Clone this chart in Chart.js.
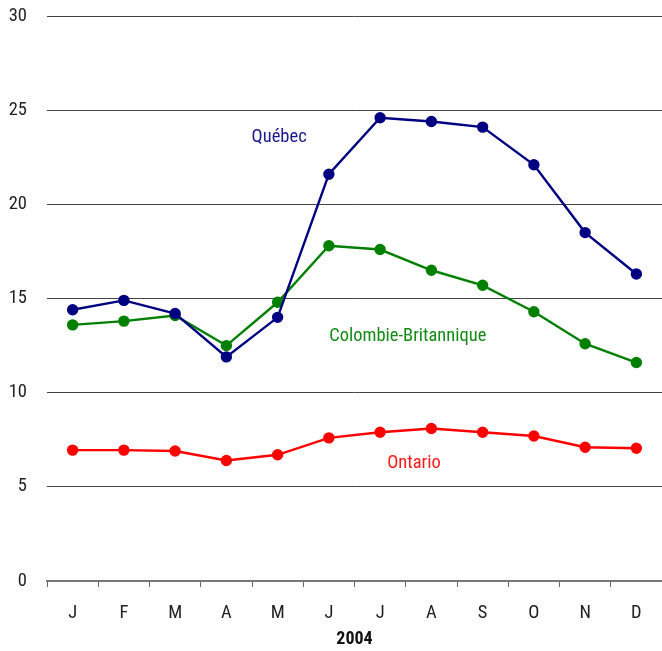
<!DOCTYPE html>
<html>
<head>
<meta charset="utf-8">
<script src="https://cdn.jsdelivr.net/npm/chart.js@4.4.1/dist/chart.umd.min.js"></script>
<style>
html,body{margin:0;padding:0;background:#fff;}
#wrap{width:662px;height:651px;}
</style>
</head>
<body>
<div id="wrap"><canvas id="c" width="662" height="651"></canvas></div>
<script>
const months = ['J','F','M','A','M','J','J','A','S','O','N','D'];
const xTitle = '2004';
const quebec = [14.4, 14.9, 14.2, 11.9, 14.0, 21.6, 24.6, 24.4, 24.1, 22.1, 18.5, 16.3];
const colombie = [13.6, 13.8, 14.1, 12.5, 14.8, 17.8, 17.6, 16.5, 15.7, 14.3, 12.6, 11.6];
const ontario = [6.95, 6.95, 6.9, 6.4, 6.7, 7.6, 7.9, 8.1, 7.9, 7.7, 7.1, 7.05];
const seriesNames = ['Québec', 'Colombie-Britannique', 'Ontario'];
const yMin = 0, yMax = 30, yStep = 5;

const FONT = "'Liberation Sans Narrow', 'Arial Narrow', 'Roboto Condensed', 'Liberation Sans', sans-serif";

// label positions in data space (category index, value)
const labelSpots = [
  {text: seriesNames[0], xi: 4.03, y: 23.58, color: '#1a1a8c'},
  {text: seriesNames[1], xi: 6.54, y: 13.01, color: '#138a13'},
  {text: seriesNames[2], xi: 6.66, y: 6.27, color: '#ff1a1a'}
];

const labelPlugin = {
  id: 'seriesLabels',
  afterDatasetsDraw(chart) {
    const ctx = chart.ctx;
    const xs = chart.scales.x, ys = chart.scales.y;
    ctx.save();
    ctx.font = "18.5px " + FONT;
    ctx.textAlign = 'center';
    ctx.textBaseline = 'middle';
    labelSpots.forEach(l => {
      const i0 = Math.floor(l.xi), f = l.xi - i0;
      const px = xs.getPixelForValue(i0) + f * (xs.getPixelForValue(i0 + 1) - xs.getPixelForValue(i0));
      ctx.fillStyle = l.color;
      ctx.fillText(l.text, px, ys.getPixelForValue(l.y));
    });
    ctx.restore();
  }
};

function ds(label, data, color) {
  return {
    label, data,
    borderColor: color, backgroundColor: color,
    pointBackgroundColor: color, pointBorderColor: color,
    borderWidth: 2.4, pointRadius: 4.5, pointHoverRadius: 4.5,
    tension: 0, fill: false
  };
}

new Chart(document.getElementById('c'), {
  type: 'line',
  data: {
    labels: months,
    datasets: [
      ds(seriesNames[0], quebec, '#000080'),
      ds(seriesNames[1], colombie, '#008000'),
      ds(seriesNames[2], ontario, '#ff0000')
    ]
  },
  options: {
    responsive: false,
    animation: false,
    devicePixelRatio: 1,
    layout: {autoPadding: false, padding: {top: 16, right: 0, left: 0, bottom: 0}},
    plugins: {legend: {display: false}, tooltip: {enabled: false}},
    scales: {
      x: {
        offset: true,
        afterFit(scale) { scale.height = 70; scale.paddingLeft = 0; scale.paddingRight = 0; },
        grid: {offset: true, drawOnChartArea: false, drawTicks: true, tickLength: 6, color: '#666', lineWidth: 1},
        border: {display: true, color: '#777', width: 2},
        ticks: {color: '#222', font: {family: FONT, size: 18.5}, padding: 15, maxRotation: 0, autoSkip: false},
        title: {display: true, text: xTitle, color: '#111', font: {family: FONT, size: 18, weight: 'bold'}, padding: {top: 2, bottom: 1}}
      },
      y: {
        min: yMin, max: yMax,
        afterFit(scale) { scale.width = 47; scale.paddingTop = 0; scale.paddingBottom = 0; },
        grid: {drawTicks: false, color: '#444', lineWidth: 1},
        border: {display: false},
        ticks: {stepSize: yStep, color: '#222', font: {family: FONT, size: 18.5}, padding: 20}
      }
    }
  },
  plugins: [labelPlugin]
});
</script>
</body>
</html>
